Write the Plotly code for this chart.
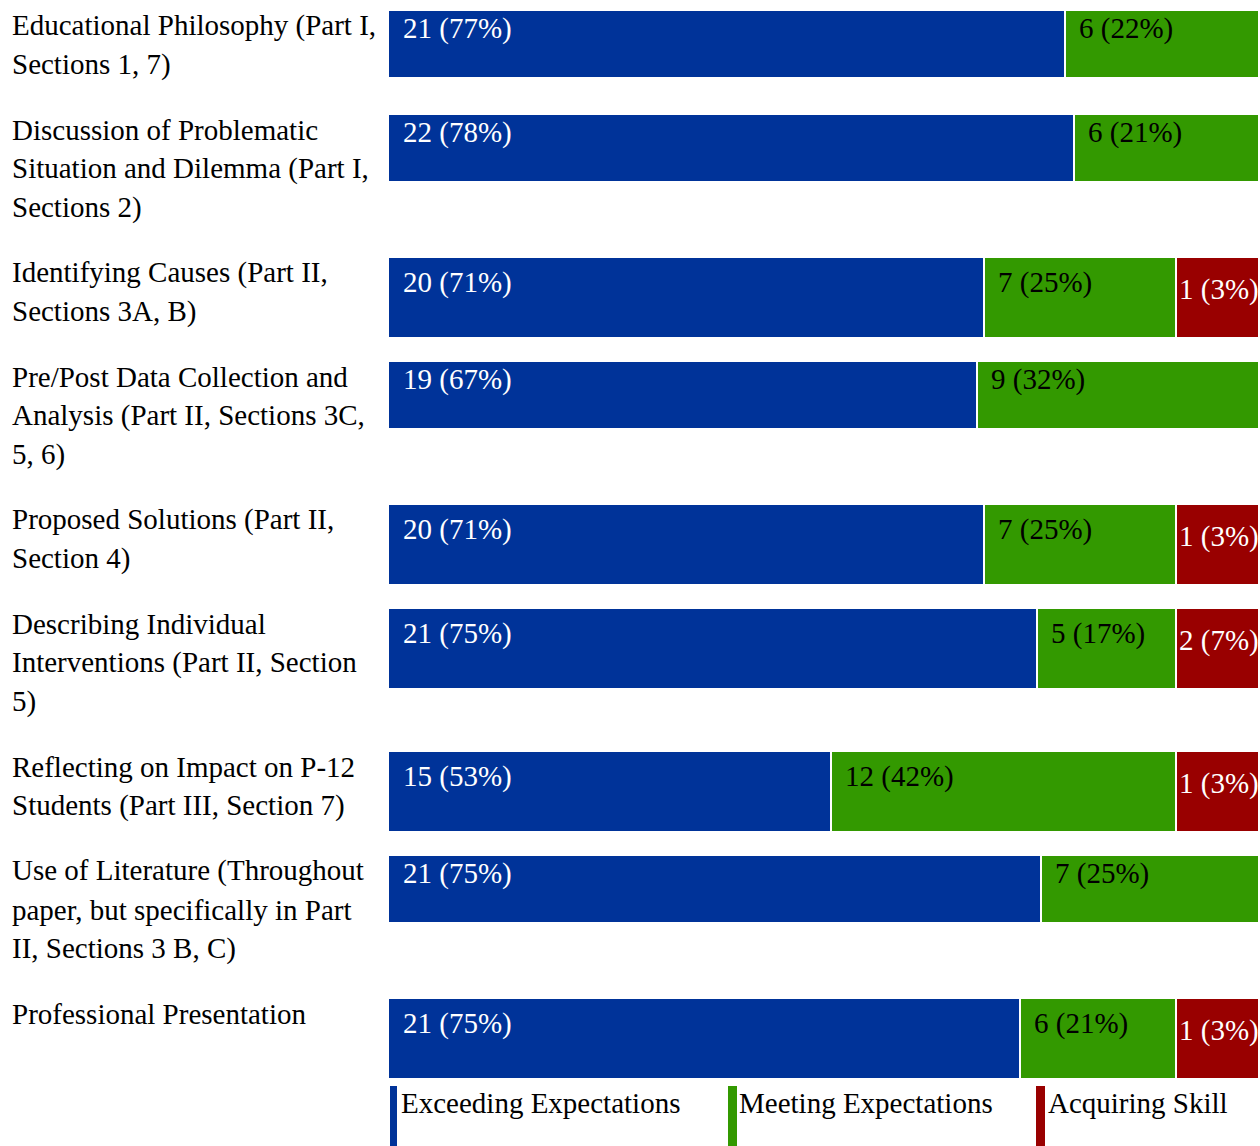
import plotly.graph_objects as go

# ---------------- data ----------------
categories = [
    "Educational Philosophy (Part I,<br>Sections 1, 7)",
    "Discussion of Problematic<br>Situation and Dilemma (Part I,<br>Sections 2)",
    "Identifying Causes (Part II,<br>Sections 3A, B)",
    "Pre/Post Data Collection and<br>Analysis (Part II, Sections 3C,<br>5, 6)",
    "Proposed Solutions (Part II,<br>Section 4)",
    "Describing Individual<br>Interventions (Part II, Section<br>5)",
    "Reflecting on Impact on P-12<br>Students (Part III, Section 7)",
    "Use of Literature (Throughout<br>paper, but specifically in Part<br>II, Sections 3 B, C)",
    "Professional Presentation",
]
levels = ["Exceeding Expectations", "Meeting Expectations", "Acquiring Skill"]

exceeding_counts = [21, 22, 20, 19, 20, 21, 15, 21, 21]
exceeding_pct = [77, 78, 71, 67, 71, 75, 53, 75, 75]
meeting_counts = [6, 6, 7, 9, 7, 5, 12, 7, 6]
meeting_pct = [22, 21, 25, 32, 25, 17, 42, 25, 21]
acquiring_counts = [0, 0, 1, 0, 1, 2, 1, 0, 1]
acquiring_pct = [0, 0, 3, 0, 3, 7, 3, 0, 3]

colors = ["#003399", "#339900", "#990000"]
text_colors = ["white", "black", "white"]

# ---------------- layout parameters ----------------
FIG_W, FIG_H = 1260, 1146
X0_PX, X1_PX = 389, 1258
W_PX = X1_PX - X0_PX
MIN_SEG_PX = 82
GAP_PX = 2
LINE_H = 39
ROW_GAP = 26
TOP0 = 11
FONT = "Liberation Serif, Times New Roman, serif"
FS = 29

counts = [exceeding_counts, meeting_counts, acquiring_counts]
pcts = [exceeding_pct, meeting_pct, acquiring_pct]

seg_base = [[] for _ in range(3)]
seg_len = [[] for _ in range(3)]
centers, heights = [], []
annotations = []

top = TOP0
for i, cat in enumerate(categories):
    lines = cat.split("<br>")
    has_red = acquiring_counts[i] > 0
    barh = 79 if has_red else 66
    # widths proportional to percentages, small segments widened to fit their label
    p = [pcts[k][i] if counts[k][i] > 0 else 0 for k in range(3)]
    tot = sum(p)
    w = [pk / tot * W_PX for pk in p]
    small = [k for k in range(3) if 0 < w[k] < MIN_SEG_PX]
    big = [k for k in range(3) if w[k] >= MIN_SEG_PX]
    deficit = sum(MIN_SEG_PX - w[k] for k in small)
    for k in small:
        w[k] = MIN_SEG_PX
    for k in big:
        w[k] -= deficit / len(big)
    present = [k for k in range(3) if w[k] > 0]
    pos = 0.0
    for k in range(3):
        if w[k] <= 0:
            seg_base[k].append(0)
            seg_len[k].append(0)
            continue
        s = pos + (GAP_PX / 2 if k != present[0] else 0)
        e = pos + w[k] - (GAP_PX / 2 if k != present[-1] else 0)
        pos += w[k]
        seg_base[k].append(s / W_PX * 100)
        seg_len[k].append((e - s) / W_PX * 100)
        # segment label
        pad = [13, 12, 1][k]
        off = 31 if k == 2 else (24 if has_red else 17.5)
        annotations.append(dict(
            x=s / W_PX * 100, y=top + off, xref="x", yref="y",
            xanchor="left", yanchor="middle", xshift=pad,
            text=f"{counts[k][i]} ({pcts[k][i]}%)", showarrow=False,
            borderpad=0, font=dict(family=FONT, size=FS, color=text_colors[k]),
        ))
    centers.append(top + barh / 2)
    heights.append(barh)
    # category label lines
    for j, ln in enumerate(lines):
        annotations.append(dict(
            x=11 / FIG_W, y=top + 14.5 + LINE_H * j, xref="paper", yref="y",
            xanchor="left", yanchor="middle", text=ln, showarrow=False,
            borderpad=0, font=dict(family=FONT, size=FS, color="black"),
        ))
    top += max(len(lines), 2) * LINE_H + ROW_GAP

fig = go.Figure()
for k in range(3):
    fig.add_trace(go.Bar(
        y=centers, x=seg_len[k], base=seg_base[k], width=heights,
        orientation="h", name=levels[k], marker=dict(color=colors[k], line=dict(width=0)),
        showlegend=False, hoverinfo="name",
    ))

# custom legend
shapes = []
legend_pos = [(390, 397, 400), (728, 737, 738), (1036, 1045, 1047)]
for k, (bx0, bx1, tx) in enumerate(legend_pos):
    shapes.append(dict(type="rect", xref="paper", yref="y",
                       x0=bx0 / FIG_W, x1=bx1 / FIG_W, y0=1086, y1=1146,
                       fillcolor=colors[k], line=dict(width=0)))
    annotations.append(dict(
        x=tx / FIG_W, y=1103, xref="paper", yref="y",
        xanchor="left", yanchor="middle", text=levels[k], showarrow=False,
        borderpad=0, font=dict(family=FONT, size=FS, color="black"),
    ))

fig.update_layout(
    width=FIG_W, height=FIG_H,
    margin=dict(l=0, r=0, t=0, b=0),
    paper_bgcolor="white", plot_bgcolor="white",
    barmode="overlay", bargap=0,
    xaxis=dict(domain=[X0_PX / FIG_W, X1_PX / FIG_W], range=[0, 100],
               visible=False, fixedrange=True),
    yaxis=dict(domain=[0, 1], range=[FIG_H, 0], visible=False, fixedrange=True),
    annotations=annotations, shapes=shapes,
    font=dict(family=FONT, size=FS),
)

fig.write_html("out.html")
